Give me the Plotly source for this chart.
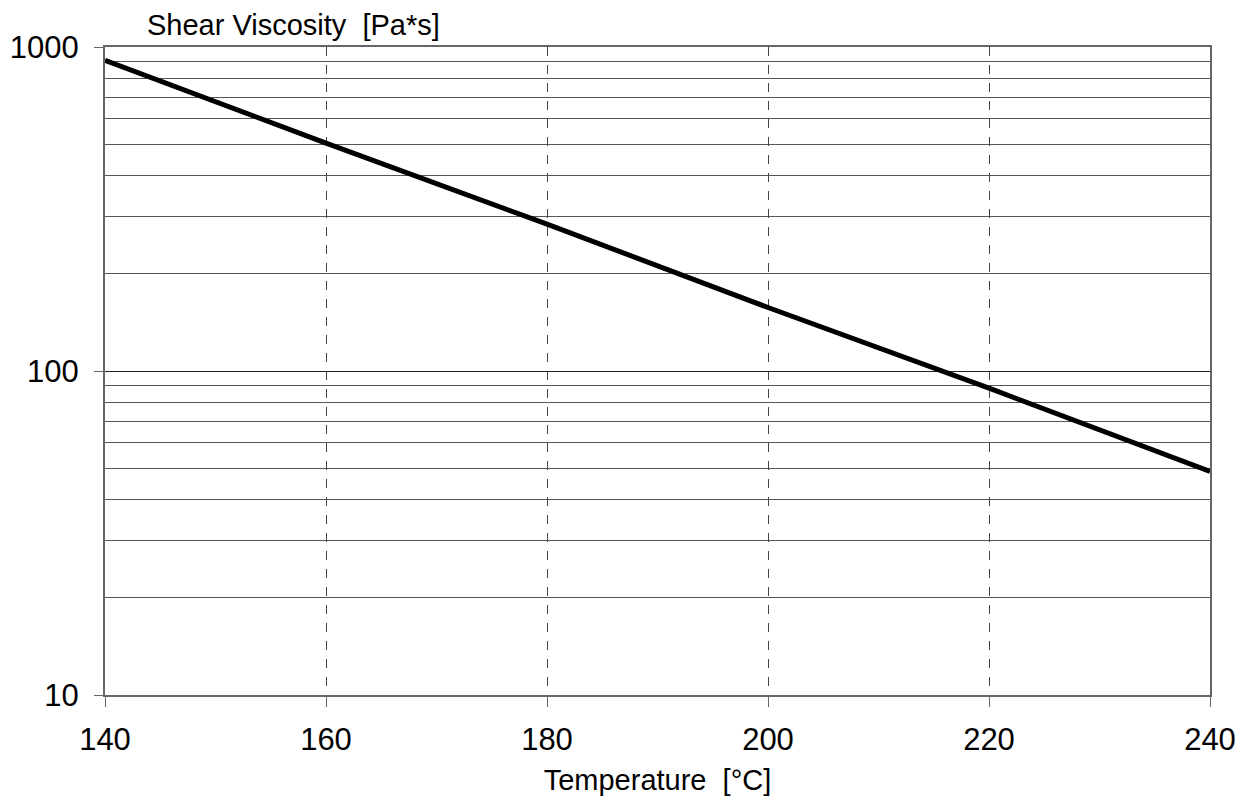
import plotly.graph_objects as go

temperature = [140, 160, 180, 200, 220, 240]
viscosity = [910, 505, 284, 157, 88.5, 49]
y_tick_vals = [10, 100, 1000]
y_tick_text = ["10", "100", "1000"]
y_minor_vals = [20, 30, 40, 50, 60, 70, 80, 90,
                200, 300, 400, 500, 600, 700, 800, 900]
x_tick_vals = [140, 160, 180, 200, 220, 240]

fig = go.Figure()
fig.add_trace(go.Scatter(x=temperature, y=viscosity, mode="lines",
                         line=dict(color="black", width=5), showlegend=False))

font_family = "Liberation Sans, Arial, sans-serif"
fig.update_layout(
    width=1240, height=793,
    margin=dict(l=97, r=38, t=39, b=106, autoexpand=False),
    paper_bgcolor="white", plot_bgcolor="white",
    font=dict(family=font_family, color="black"),
    xaxis=dict(
        range=[140, 240], tickvals=x_tick_vals, automargin=False,
        showgrid=True, gridcolor="#444", griddash="dash", gridwidth=1,
        showline=True, linecolor="#666", linewidth=2, mirror=True,
        ticks="outside", ticklen=10, tickcolor="#666", tickwidth=1,
        ticklabelstandoff=6,
        tickfont=dict(size=31), zeroline=False,
        title=dict(text="Temperature  [°C]", font=dict(size=29), standoff=13),
    ),
    yaxis=dict(
        type="log", range=[1, 3], tickvals=y_tick_vals, ticktext=y_tick_text,
        automargin=False,
        showgrid=True, gridcolor="#222", gridwidth=1,
        minor=dict(tickvals=y_minor_vals,
                   showgrid=True, gridcolor="#555", gridwidth=1, ticks=""),
        showline=True, linecolor="#666", linewidth=2, mirror=True,
        ticks="outside", ticklen=9, tickcolor="#666", tickwidth=1,
        ticklabelstandoff=9,
        tickfont=dict(size=31), zeroline=False,
    ),
    annotations=[dict(text="Shear Viscosity  [Pa*s]", xref="paper", yref="paper",
                      x=0.036, y=1.0, yshift=4, xanchor="left", yanchor="bottom",
                      showarrow=False, font=dict(size=29))],
)
fig.write_html("out.html")
